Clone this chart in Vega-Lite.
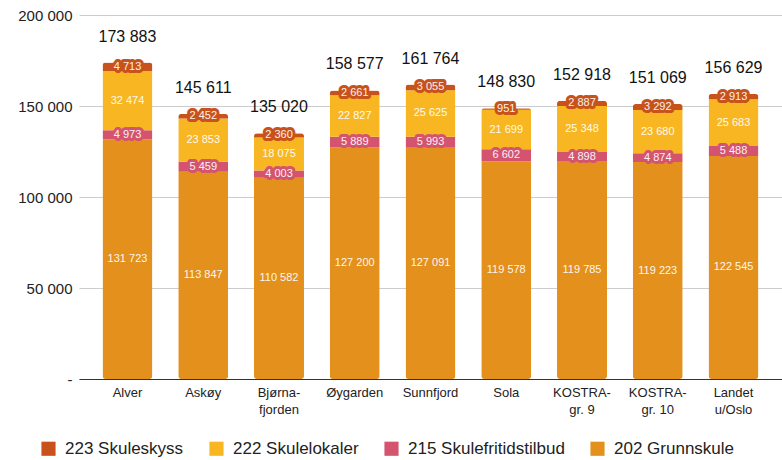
{
  "$schema": "https://vega.github.io/schema/vega-lite/v6.json",
  "width": 703,
  "height": 364,
  "autosize": {"type": "none"},
  "padding": {"left": 79, "top": 15, "right": 0, "bottom": 81},
  "background": "white",
  "config": {
    "font": "Liberation Sans",
    "view": {"stroke": null},
    "locale": {"number": {"decimal": ",", "thousands": " ", "grouping": [3], "currency": ["", " kr"]}}
  },
  "data": {"values": [
    {"kommune": "Alver", "serie": "202 Grunnskule", "verdi": 131723},
    {"kommune": "Alver", "serie": "215 Skulefritidstilbud", "verdi": 4973},
    {"kommune": "Alver", "serie": "222 Skulelokaler", "verdi": 32474},
    {"kommune": "Alver", "serie": "223 Skuleskyss", "verdi": 4713},
    {"kommune": "Askøy", "serie": "202 Grunnskule", "verdi": 113847},
    {"kommune": "Askøy", "serie": "215 Skulefritidstilbud", "verdi": 5459},
    {"kommune": "Askøy", "serie": "222 Skulelokaler", "verdi": 23853},
    {"kommune": "Askøy", "serie": "223 Skuleskyss", "verdi": 2452},
    {"kommune": "Bjørnafjorden", "serie": "202 Grunnskule", "verdi": 110582},
    {"kommune": "Bjørnafjorden", "serie": "215 Skulefritidstilbud", "verdi": 4003},
    {"kommune": "Bjørnafjorden", "serie": "222 Skulelokaler", "verdi": 18075},
    {"kommune": "Bjørnafjorden", "serie": "223 Skuleskyss", "verdi": 2360},
    {"kommune": "Øygarden", "serie": "202 Grunnskule", "verdi": 127200},
    {"kommune": "Øygarden", "serie": "215 Skulefritidstilbud", "verdi": 5889},
    {"kommune": "Øygarden", "serie": "222 Skulelokaler", "verdi": 22827},
    {"kommune": "Øygarden", "serie": "223 Skuleskyss", "verdi": 2661},
    {"kommune": "Sunnfjord", "serie": "202 Grunnskule", "verdi": 127091},
    {"kommune": "Sunnfjord", "serie": "215 Skulefritidstilbud", "verdi": 5993},
    {"kommune": "Sunnfjord", "serie": "222 Skulelokaler", "verdi": 25625},
    {"kommune": "Sunnfjord", "serie": "223 Skuleskyss", "verdi": 3055},
    {"kommune": "Sola", "serie": "202 Grunnskule", "verdi": 119578},
    {"kommune": "Sola", "serie": "215 Skulefritidstilbud", "verdi": 6602},
    {"kommune": "Sola", "serie": "222 Skulelokaler", "verdi": 21699},
    {"kommune": "Sola", "serie": "223 Skuleskyss", "verdi": 951},
    {"kommune": "KOSTRA-gr. 9", "serie": "202 Grunnskule", "verdi": 119785},
    {"kommune": "KOSTRA-gr. 9", "serie": "215 Skulefritidstilbud", "verdi": 4898},
    {"kommune": "KOSTRA-gr. 9", "serie": "222 Skulelokaler", "verdi": 25348},
    {"kommune": "KOSTRA-gr. 9", "serie": "223 Skuleskyss", "verdi": 2887},
    {"kommune": "KOSTRA-gr. 10", "serie": "202 Grunnskule", "verdi": 119223},
    {"kommune": "KOSTRA-gr. 10", "serie": "215 Skulefritidstilbud", "verdi": 4874},
    {"kommune": "KOSTRA-gr. 10", "serie": "222 Skulelokaler", "verdi": 23680},
    {"kommune": "KOSTRA-gr. 10", "serie": "223 Skuleskyss", "verdi": 3292},
    {"kommune": "Landet u/Oslo", "serie": "202 Grunnskule", "verdi": 122545},
    {"kommune": "Landet u/Oslo", "serie": "215 Skulefritidstilbud", "verdi": 5488},
    {"kommune": "Landet u/Oslo", "serie": "222 Skulelokaler", "verdi": 25683},
    {"kommune": "Landet u/Oslo", "serie": "223 Skuleskyss", "verdi": 2913}
  ]},
  "encoding": {
    "x": {
      "field": "kommune", "type": "nominal", "sort": null,
      "scale": {"paddingInner": 0.34, "paddingOuter": 0.31},
      "axis": {
        "title": null, "labelAngle": 0, "labelFontSize": 13, "labelColor": "#222222",
        "labelPadding": 7, "ticks": false, "domainColor": "#333333", "domainWidth": 1,
        "labelLineHeight": 17,
        "labelExpr": "datum.label == 'Bjørnafjorden' ? ['Bjørna-', 'fjorden'] : datum.label == 'KOSTRA-gr. 9' ? ['KOSTRA-', 'gr. 9'] : datum.label == 'KOSTRA-gr. 10' ? ['KOSTRA-', 'gr. 10'] : datum.label == 'Landet u/Oslo' ? ['Landet', 'u/Oslo'] : datum.label"
      }
    }
  },
  "layer": [
    {
      "mark": {"type": "bar", "cornerRadius": 3},
      "encoding": {
        "y": {
          "field": "verdi", "type": "quantitative", "aggregate": "sum", "stack": "zero",
          "scale": {"domain": [0, 200000], "nice": false},
          "axis": {
            "title": null, "values": [0, 50000, 100000, 150000, 200000],
            "labelFontSize": 15, "labelColor": "#222222", "labelPadding": 7,
            "ticks": false, "domain": false, "gridColor": "#cccccc",
            "labelExpr": "datum.value === 0 ? '-' : datum.label"
          }
        },
        "color": {
          "field": "serie", "type": "nominal",
          "scale": {
            "domain": ["223 Skuleskyss", "222 Skulelokaler", "215 Skulefritidstilbud", "202 Grunnskule"],
            "range": ["#c8521c", "#f8b722", "#d4546f", "#e3901c"]
          },
          "legend": {
            "title": null, "orient": "none", "direction": "horizontal",
            "legendX": -39, "legendY": 425,
            "symbolType": "square", "symbolSize": 200, "symbolStrokeWidth": 0,
            "labelFontSize": 17, "labelColor": "#222222", "columnPadding": 24,
            "labelOffset": 8
          }
        },
        "order": {"field": "serie", "sort": "ascending"}
      }
    },
    {
      "transform": [
        {"stack": "verdi", "groupby": ["kommune"], "sort": [{"field": "serie", "order": "ascending"}], "as": ["v0", "v1"]},
        {"calculate": "(datum.v0 + datum.v1) / 2", "as": "mid"}
      ],
      "mark": {"type": "text", "fontSize": 11, "strokeWidth": 6, "strokeJoin": "round", "baseline": "middle"},
      "encoding": {
        "y": {"field": "mid", "type": "quantitative"},
        "text": {"field": "verdi", "type": "quantitative", "format": ",d"},
        "stroke": {
          "field": "serie", "type": "nominal", "legend": null,
          "scale": {
            "domain": ["223 Skuleskyss", "222 Skulelokaler", "215 Skulefritidstilbud", "202 Grunnskule"],
            "range": ["#c8521c", "#f8b722", "#d4546f", "#e3901c"]
          }
        },
        "color": {"field": "serie", "type": "nominal", "legend": null}
      }
    },
    {
      "transform": [
        {"stack": "verdi", "groupby": ["kommune"], "sort": [{"field": "serie", "order": "ascending"}], "as": ["v0", "v1"]},
        {"calculate": "(datum.v0 + datum.v1) / 2", "as": "mid"}
      ],
      "mark": {"type": "text", "fontSize": 11, "color": "#ffffff", "opacity": 0.92, "baseline": "middle"},
      "encoding": {
        "y": {"field": "mid", "type": "quantitative"},
        "text": {"field": "verdi", "type": "quantitative", "format": ",d"}
      }
    },
    {
      "mark": {"type": "text", "fontSize": 16, "color": "#111111", "baseline": "middle", "dy": -26},
      "encoding": {
        "y": {"field": "verdi", "type": "quantitative", "aggregate": "sum"},
        "text": {"field": "verdi", "type": "quantitative", "aggregate": "sum", "format": ",d"}
      }
    }
  ]
}
